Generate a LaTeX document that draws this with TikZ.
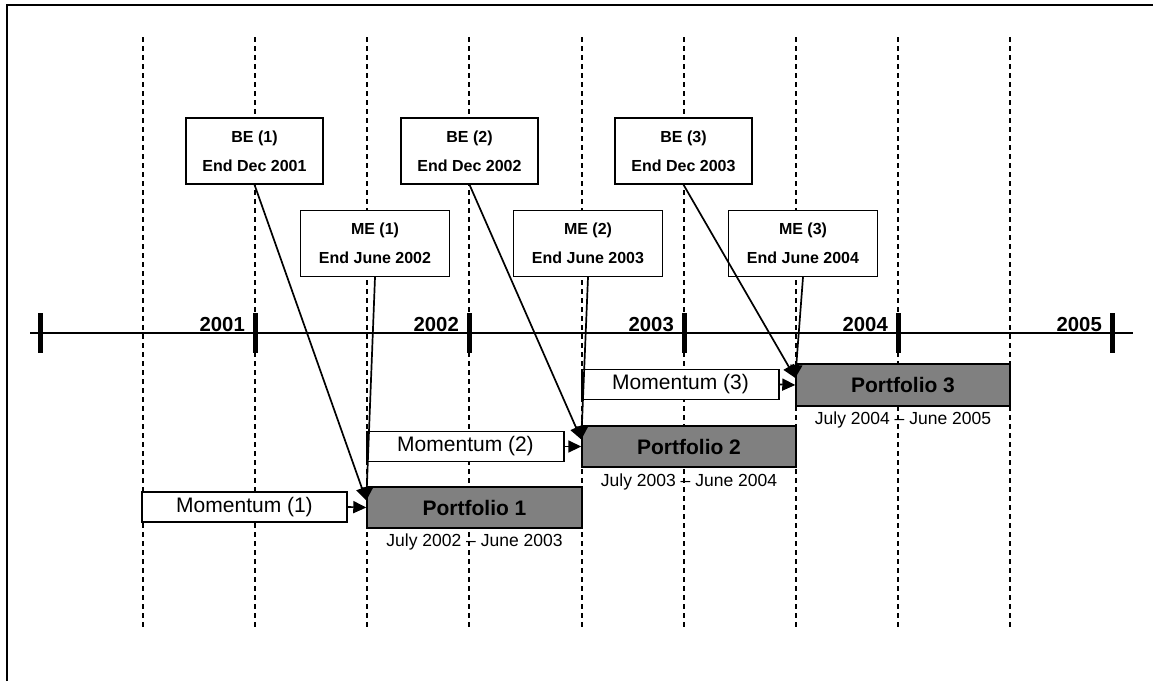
\documentclass[tikz,border=0pt]{standalone}
\usepackage{fontspec}
\setmainfont{Liberation Sans}
\usetikzlibrary{arrows.meta,calc}
\definecolor{pgray}{RGB}{128,128,128}
\begin{document}
\begin{tikzpicture}[x=1pt,y=-1pt,
  gridline/.style={dash pattern=on 5pt off 4pt, line width=1.3pt},
  axisline/.style={line width=2.8pt},
  tickmark/.style={line width=5pt},
  yearlbl/.style={anchor=base east, inner sep=0, font=\bfseries\fontsize{20.3}{24}\selectfont},
  ebox/.style={draw, line width=1.4pt, fill=white, align=center, inner sep=0,
               minimum height=66pt, font=\bfseries\fontsize{16}{29}\selectfont},
  bebox/.style={ebox, minimum width=137pt},
  mebox/.style={ebox, minimum width=149pt},
  mombox/.style={draw, line width=1.4pt, fill=white, inner sep=0, minimum height=30pt,
                 font=\fontsize{21}{24}\selectfont},
  portbox/.style={draw, line width=1.4pt, fill=pgray, inner sep=0, minimum width=214pt,
                  minimum height=41pt, font=\bfseries\fontsize{21}{24}\selectfont},
  periodlbl/.style={anchor=base, inner sep=0, font=\fontsize{17.5}{20}\selectfont},
  arr/.style={line width=1.7pt, -{Triangle[length=13pt,width=12pt]}},
  borderline/.style={line width=2.5pt}
]
\useasboundingbox (0,0) rectangle (1153,681);
% frame
\draw[borderline] (7,681) -- (7,5) -- (1153,5);
% dashed grid
\foreach \gx in {143,255,367,469,582,684,796,898,1010}
  \draw[gridline] (\gx,37) -- (\gx,628);
% axis
\draw[axisline] (30,333) -- (1133,333);
\foreach \tx in {40,255,469,684,898,1112}
  \draw[tickmark] (\tx,313) -- (\tx,353);
\node[yearlbl] (y2001) at (245,331) {2001};
\node[yearlbl] (y2002) at (459,331) {2002};
\node[yearlbl] (y2003) at (674,331) {2003};
\node[yearlbl] (y2004) at (888,331) {2004};
\node[yearlbl] (y2005) at (1102,331) {2005};
% BE and ME boxes
\node[bebox] (be1) at (254.5,151) {BE (1)\\End Dec 2001};
\node[bebox] (be2) at (469.5,151) {BE (2)\\End Dec 2002};
\node[bebox] (be3) at (683.5,151) {BE (3)\\End Dec 2003};
\node[mebox] (me1) at (375,243.5) {ME (1)\\End June 2002};
\node[mebox] (me2) at (588,243.5) {ME (2)\\End June 2003};
\node[mebox] (me3) at (803,243.5) {ME (3)\\End June 2004};
% momentum boxes
\node[mombox, minimum width=205pt] (mom1) at (244.5,507) {Momentum (1)};
\node[mombox, minimum width=197pt] (mom2) at (465.5,446.5) {Momentum (2)};
\node[mombox, minimum width=197pt] (mom3) at (680.5,384.5) {Momentum (3)};
% portfolios
\node[portbox, minimum width=215pt] (p1) at (474.5,507.5) {Portfolio 1};
\node[portbox] (p2) at (689,446.5) {Portfolio 2};
\node[portbox, minimum height=42pt] (p3) at (903,385) {Portfolio 3};
% period labels
\node[periodlbl] (l1) at (474.5,546) {July 2002 \textendash{} June 2003};
\node[periodlbl] (l2) at (689,486) {July 2003 \textendash{} June 2004};
\node[periodlbl] (l3) at (903,424) {July 2004 \textendash{} June 2005};
% targets
\coordinate (t1) at ($(p1.west)+(0,-7)$);
\coordinate (t2) at ($(p2.west)+(0,-7)$);
\coordinate (t3) at ($(p3.west)+(0,-7)$);
% arrows
\draw[arr] (mom1.east) -- (p1.west);
\draw[arr] (mom2.east) -- (p2.west);
\draw[arr] (mom3.east) -- (p3.west);
\draw[arr] (me1.south) -- (t1);
\draw[arr] (me2.south) -- (t2);
\draw[arr] (me3.south) -- (t3);
\draw[arr] (be1.south) -- (t1);
\draw[arr] (be2.south) -- (t2);
\draw[arr] (be3.south) -- (t3);
\end{tikzpicture}
\end{document}
